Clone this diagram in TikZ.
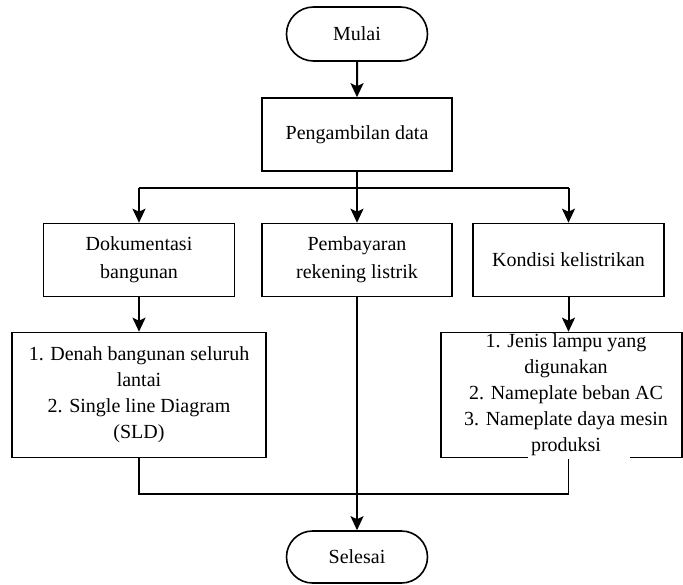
\documentclass[tikz,border=0pt]{standalone}
\usepackage{fontspec}
\setmainfont{Liberation Serif}
\usetikzlibrary{arrows.meta,shapes.misc}
\begin{document}
\begin{tikzpicture}[x=1pt,y=-1pt,
  txt/.style={font=\fontsize{20}{28}\selectfont},
  listtxt/.style={font=\fontsize{20}{26}\selectfont},
  box/.style={draw, line width=1.6pt, align=center, txt, inner sep=0pt},
  term/.style={draw, line width=1.6pt, rounded rectangle, txt, minimum width=141pt, inner sep=0pt},
  arr/.style={line width=2pt, -{Stealth[length=14pt,width=13pt,inset=3pt]}},
  ln/.style={line width=2pt},
  thinln/.style={line width=1.3pt}]
\useasboundingbox (0,0) rectangle (683,584);
\node[term, minimum height=54pt] (mulai) at (357,34) {Mulai};
\node[box, minimum width=190pt, minimum height=73pt] (peng) at (357,134.5) {Pengambilan data};
\node[box, minimum width=191pt, minimum height=73pt] (dok) at (139,260) {Dokumentasi\\bangunan};
\node[box, minimum width=190pt, minimum height=73pt] (pem) at (357,260) {Pembayaran\\rekening listrik};
\node[box, minimum width=191pt, minimum height=73pt] (kon) at (568.5,260) {Kondisi kelistrikan};
\node[box, listtxt, minimum width=254pt, minimum height=125pt] (den) at (139,395) {1. Denah bangunan seluruh\\lantai\\2. Single line Diagram\\(SLD)};
\node[box, minimum width=241pt, minimum height=125pt] (jen) at (561.5,395) {};
\node[listtxt, align=center, inner sep=0pt] (jentxt) at (566,395) {1. Jenis lampu yang\\digunakan\\2. Nameplate beban AC\\3. Nameplate daya mesin\\produksi};
\node[term, minimum height=52pt] (sel) at (357,557) {Selesai};
\coordinate (split) at (357,188);
\coordinate (sl) at (139,188);
\coordinate (sr) at (568.5,188);
\coordinate (ml) at (139,494);
\coordinate (mr) at (568.5,494);
\draw[arr] (mulai) -- (peng);
\draw[ln] (peng.south) -- (split);
\draw[ln] (sl) -- (sr);
\draw[arr] (sl) -- (dok.north);
\draw[arr] (split) -- (pem.north);
\draw[arr] (sr) -- (kon.north);
\draw[arr] (dok.south) -- (den.north);
\draw[arr] (kon.south) -- (kon.south |- jen.north);
\draw[arr] (pem.south) -- (sel.north);
\draw[thinln] (den.south) -- (ml) -- (mr) -- (mr |- jen.south);
\draw[white, line width=2.6pt] (528,457.5) -- (630,457.5);
\end{tikzpicture}
\end{document}
